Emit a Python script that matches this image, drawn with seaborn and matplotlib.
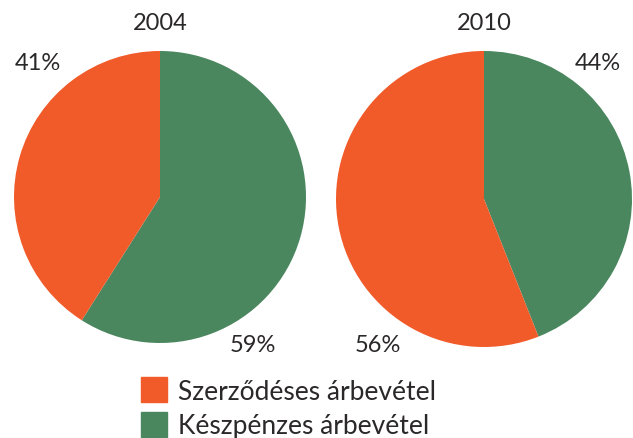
import matplotlib
matplotlib.use('Agg')

import matplotlib.pyplot as plt
import matplotlib.patches as mpatches
import seaborn as sns


# =========================================================
# DATA
# =========================================================

years = ["2004", "2010"]

categories = [
    "Szerződéses árbevétel",
    "Készpénzes árbevétel"
]

szerzodeses = [41, 56]
keszpenzes = [59, 44]

colors = ["#F15A29", "#4A875E"]


# =========================================================
# STYLE
# =========================================================

sns.set_theme(style="white")
plt.rcParams['font.family'] = ['Lato', 'DejaVu Sans']

W, H = 633, 439

fig = plt.figure(figsize=(W / 100, H / 100), dpi=100)


def px_axes(x0, y_top, size):
    # pixel box -> figure fraction
    return fig.add_axes([
        x0 / W,
        (H - y_top - size) / H,
        size / W,
        size / H
    ])


# =========================================================
# PIES
# =========================================================

pie_boxes = [
    (14, 52, 292),
    (336, 52, 296)
]

for i, year in enumerate(years):

    ax = px_axes(*pie_boxes[i])

    ax.pie(
        [keszpenzes[i], szerzodeses[i]],
        colors=[colors[1], colors[0]],
        startangle=90,
        counterclock=False,
        radius=1,
        wedgeprops=dict(linewidth=0)
    )

    ax.set_xlim(-1, 1)
    ax.set_ylim(-1, 1)
    ax.set_aspect('equal')
    ax.axis('off')


def ftext(x, y, s, size=17, ha='center'):
    fig.text(
        x / W,
        1 - y / H,
        s,
        ha=ha,
        va='center',
        fontsize=size,
        color='#2B2829'
    )


# titles
ftext(160, 24, years[0])
ftext(484, 24, years[1])

# percent labels
ftext(38, 64, f"{szerzodeses[0]}%")
ftext(253, 346, f"{keszpenzes[0]}%")
ftext(598, 64, f"{keszpenzes[1]}%")
ftext(378, 346, f"{szerzodeses[1]}%")


# =========================================================
# LEGEND
# =========================================================

handles = [
    mpatches.Patch(color=colors[0], label=categories[0]),
    mpatches.Patch(color=colors[1], label=categories[1])
]

fig.legend(
    handles=handles,
    loc='upper left',
    bbox_to_anchor=(141 / W, 1 - 378 / H),
    frameon=False,
    fontsize=19,
    handlelength=1.0,
    handleheight=1.1,
    handletextpad=0.4,
    labelspacing=0.3,
    borderpad=0,
    borderaxespad=0,
    labelcolor='#2B2829'
)

plt.savefig("out.png", dpi=100)
plt.close()
